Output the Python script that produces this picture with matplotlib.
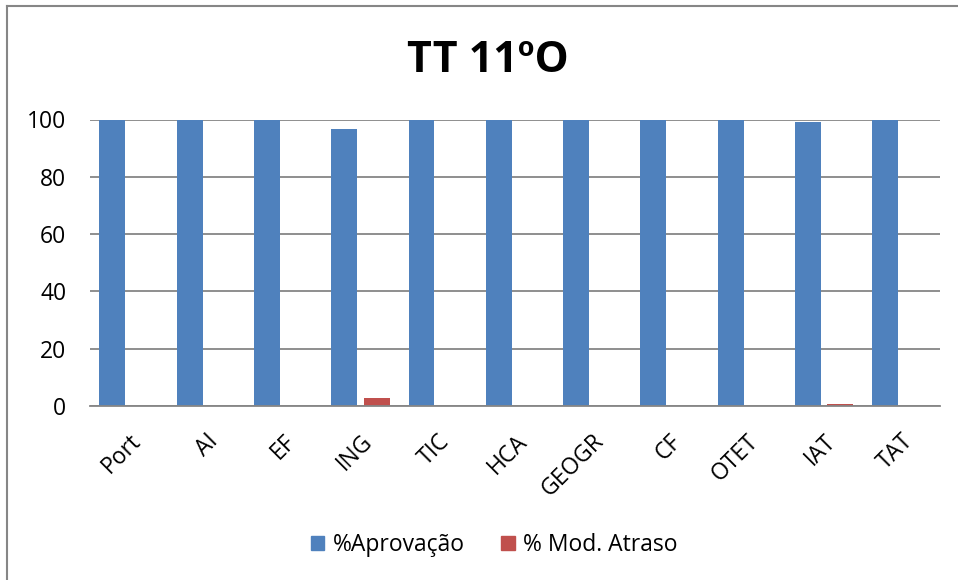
import matplotlib.pyplot as plt
import numpy as np
from matplotlib.lines import Line2D
from matplotlib.patches import Patch

# dados do gráfico
disciplinas = ["Port", "AI", "EF", "ING", "TIC", "HCA", "GEOGR", "CF", "OTET", "IAT", "TAT"]
aprovacao = [100, 100, 100, 96.8, 100, 100, 100, 100, 100, 99.1, 100]
mod_atraso = [0, 0, 0, 2.9, 0, 0, 0, 0, 0, 0.7, 0]
y_ticks = [0, 20, 40, 60, 80, 100]

plt.rcParams['font.family'] = ['Open Sans', 'DejaVu Sans']

azul = "#4F81BD"
vermelho = "#C0504D"
cinza = "#868686"

fig = plt.figure(figsize=(9.58, 5.80), dpi=100)
ax = fig.add_axes([90 / 958, 1 - 406 / 580, 850 / 958, 286.5 / 580])

x = np.arange(len(disciplinas))
w = 0.336
ax.bar(x - 0.21, aprovacao, w, color=azul, label="%Aprovação", zorder=3)
ax.bar(x + 0.21, mod_atraso, w, color=vermelho, label="% Mod. Atraso", zorder=3)

ax.set_xlim(-0.5, len(disciplinas) - 0.5)
ax.set_ylim(0, 100)
ax.set_yticks(y_ticks)
ax.set_yticklabels([str(v) for v in y_ticks], fontsize=16.5)
ax.tick_params(axis='y', length=0, pad=17)
ax.set_xticks(x)
ax.set_xticklabels(disciplinas, rotation=45, ha='right', va='top',
                   rotation_mode='anchor', fontsize=16.5)
ax.tick_params(axis='x', length=0, pad=17)

ax.grid(axis='y', color=cinza, linewidth=1.3, zorder=0)
for s in ["top", "right", "left"]:
    ax.spines[s].set_visible(False)
ax.spines["bottom"].set_color(cinza)
ax.spines["bottom"].set_linewidth(1.3)
ax.spines["bottom"].set_zorder(4)

fig.text(488 / 958, 1 - 60 / 580, "TT 11ºO", ha='center', va='center',
         fontsize=31, fontweight='bold')

handles = [Patch(color=azul), Patch(color=vermelho)]
fig.legend(handles, ["%Aprovação", "% Mod. Atraso"], loc='center',
           bbox_to_anchor=(494 / 958, 1 - 545 / 580), ncol=2, frameon=False,
           fontsize=16.5, handlelength=0.6, handleheight=0.6, handletextpad=0.35,
           columnspacing=1.6)

# moldura do gráfico (só esquerda e topo visíveis)
fig.add_artist(Line2D([7 / 958, 7 / 958], [0, 1 - 6 / 580], color=cinza, lw=1.5))
fig.add_artist(Line2D([7 / 958, 1], [1 - 6 / 580, 1 - 6 / 580], color=cinza, lw=1.5))

fig.savefig("out.png", dpi=100)
